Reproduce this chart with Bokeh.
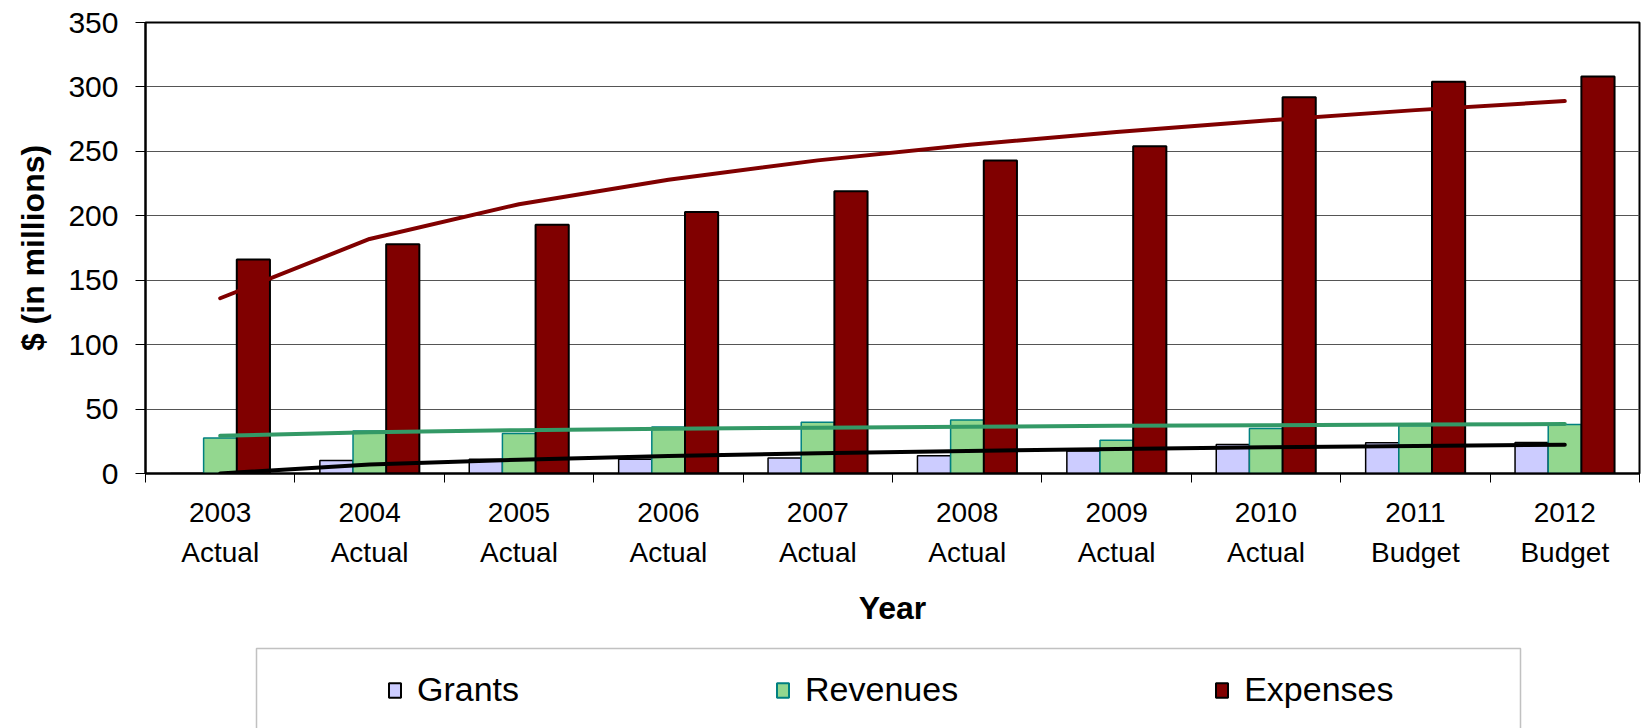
from bokeh.plotting import figure
from bokeh.layouts import column
from bokeh.models import (Range1d, FixedTicker, Legend, LegendItem, BoxAnnotation,
                          ColumnDataSource)
from bokeh.transform import dodge
from bokeh.embed import file_html
from bokeh.resources import INLINE
import numpy as np

# ---------------- data ----------------
years = ["2003", "2004", "2005", "2006", "2007", "2008", "2009", "2010", "2011", "2012"]
status = ["Actual", "Actual", "Actual", "Actual", "Actual", "Actual", "Actual", "Actual",
          "Budget", "Budget"]
grants = [0, 10, 11, 11, 12, 13.7, 17.4, 22.5, 23.8, 24.1]
revenues = [27.6, 33, 31, 36, 39.7, 41.5, 25.8, 35, 37, 38]
expenses = [166, 178, 193, 203, 219, 243, 254, 292, 304, 308]
trend_grants = [0, 7, 10.7, 13.5, 15.7, 17.5, 19, 20.3, 21.4, 22.3]
trend_revenues = [29.2, 32, 33.6, 34.7, 35.6, 36.3, 37, 37.5, 38, 38.4]
trend_expenses = [136, 182, 209, 228, 243, 255, 265, 274, 282, 289]
y_ticks = [0, 50, 100, 150, 200, 250, 300, 350]
series_names = ["Grants", "Revenues", "Expenses"]

FONT = "Liberation Sans"
GRANT_FILL, GRANT_LINE = "#CCCCFF", "black"
REV_FILL, REV_LINE = "#93D78F", "#008080"
EXP_FILL, EXP_LINE = "#800000", "black"

n = len(years)
pos = np.arange(n) + 0.5

src = ColumnDataSource(dict(x=pos, grants=grants, revenues=revenues, expenses=expenses,
                            tg=trend_grants, tr=trend_revenues, te=trend_expenses))

# ---------------- main chart ----------------
p = figure(width=1648, height=640, output_backend="svg", toolbar_location=None,
           x_range=Range1d(0, n), y_range=Range1d(y_ticks[0], y_ticks[-1]),
           min_border_left=145, min_border_right=9, min_border_top=22,
           min_border_bottom=167)
p.background_fill_color = "white"
p.border_fill_color = "white"
p.outline_line_color = "black"
p.outline_line_width = 2

W = 0.222
p.vbar(x=dodge("x", -W), top="grants", width=W, source=src,
       fill_color=GRANT_FILL, line_color=GRANT_LINE, line_width=1.5)
p.vbar(x=dodge("x", 0), top="revenues", width=W, source=src,
       fill_color=REV_FILL, line_color=REV_LINE, line_width=1.5)
p.vbar(x=dodge("x", W), top="expenses", width=W, source=src,
       fill_color=EXP_FILL, line_color=EXP_LINE, line_width=2)

p.line("x", "te", source=src, line_color="#800000", line_width=4, line_cap="round")
p.line("x", "tr", source=src, line_color="#339966", line_width=4, line_cap="round")
p.line("x", "tg", source=src, line_color="black", line_width=4, line_cap="round")

p.xgrid.visible = False
p.ygrid.ticker = FixedTicker(ticks=y_ticks)
p.ygrid.grid_line_color = "#555555"
p.ygrid.grid_line_width = 1

ya = p.yaxis[0]
ya.ticker = FixedTicker(ticks=y_ticks)
ya.axis_line_color = "black"
ya.axis_line_width = 2
ya.major_tick_out = 10
ya.major_tick_in = 0
ya.major_tick_line_color = "black"
ya.minor_tick_line_color = None
ya.major_label_standoff = 17
ya.major_label_text_font = FONT
ya.major_label_text_font_size = "30px"
ya.major_label_text_color = "black"
ya.axis_label = "$ (in millions)"
ya.axis_label_text_font = FONT
ya.axis_label_text_font_size = "32px"
ya.axis_label_text_font_style = "bold"
ya.axis_label_text_color = "black"
ya.axis_label_standoff = 14

xa = p.xaxis[0]
xa.ticker = FixedTicker(ticks=[float(v) for v in pos], minor_ticks=list(range(n + 1)))
xa.major_label_overrides = {float(pos[i]): f"{years[i]}\n{status[i]}" for i in range(n)}
xa.axis_line_color = "black"
xa.axis_line_width = 2
xa.major_tick_out = 0
xa.major_tick_in = 0
xa.minor_tick_out = 9
xa.minor_tick_in = 0
xa.minor_tick_line_color = "black"
xa.major_label_standoff = 14
xa.major_label_text_font = FONT
xa.major_label_text_font_size = "28px"
xa.major_label_text_line_height = 1.3
xa.major_label_text_color = "black"
xa.axis_label = "Year"
xa.axis_label_text_font = FONT
xa.axis_label_text_font_size = "32px"
xa.axis_label_text_font_style = "bold"
xa.axis_label_text_color = "black"
xa.axis_label_standoff = 19

# ---------------- legend strip ----------------
# frame of this strip is aligned with the main frame (page x 145..1639)
p2 = figure(width=1648, height=88, output_backend="svg", toolbar_location=None,
            x_range=Range1d(145, 1639), y_range=Range1d(0, 88),
            x_axis_type=None, y_axis_type=None,
            min_border_left=0, min_border_right=0, min_border_top=0, min_border_bottom=0)
p2.outline_line_color = None
p2.grid.visible = False
p2.background_fill_color = "white"
p2.border_fill_color = "white"
p2.extra_x_ranges = {"bars": Range1d(0, n)}
p2.extra_y_ranges = {"bars": Range1d(y_ticks[0], y_ticks[-1])}

# legend proxies (drawn, then covered by a white box; only legend glyphs show)
l_g = p2.vbar(x="x", top="grants", width=W, source=src,
              x_range_name="bars", y_range_name="bars",
              fill_color=GRANT_FILL, line_color=GRANT_LINE, line_width=2)
l_r = p2.vbar(x="x", top="revenues", width=W, source=src,
              x_range_name="bars", y_range_name="bars",
              fill_color=REV_FILL, line_color=REV_LINE, line_width=2)
l_e = p2.vbar(x="x", top="expenses", width=W, source=src,
              x_range_name="bars", y_range_name="bars",
              fill_color=EXP_FILL, line_color=EXP_LINE, line_width=2)

cover = BoxAnnotation(fill_color="white", fill_alpha=1, line_alpha=0)
p2.add_layout(cover)

box = BoxAnnotation(left=256, right=1520, top=80, bottom=-100,
                    fill_alpha=0, line_color="#333333", line_width=1.5)
p2.add_layout(box)

legend = Legend(items=[LegendItem(label=series_names[0], renderers=[l_g]),
                       LegendItem(label=series_names[1], renderers=[l_r]),
                       LegendItem(label=series_names[2], renderers=[l_e])],
                orientation="horizontal", location=(242, 19), padding=0, margin=0,
                spacing=256, label_standoff=15, glyph_width=15, glyph_height=18,
                label_text_font=FONT, label_text_font_size="34px",
                label_text_color="black",
                border_line_alpha=0, background_fill_alpha=0)
p2.add_layout(legend, "center")

layout = column(p, p2, spacing=0)
open("out.html", "w").write(file_html(layout, INLINE, title="chart"))
